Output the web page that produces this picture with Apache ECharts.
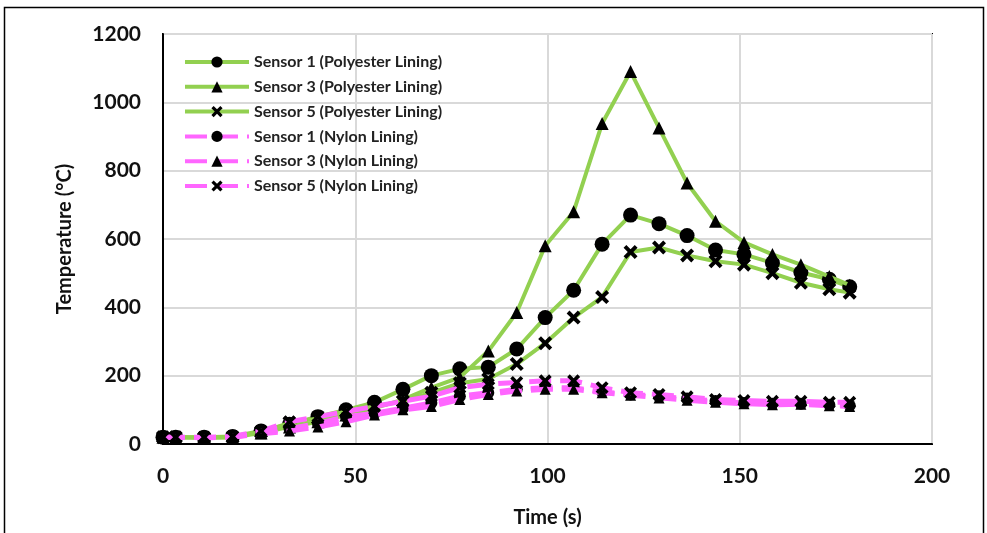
<!DOCTYPE html>
<html>
<head>
<meta charset="utf-8">
<script src="https://cdn.jsdelivr.net/npm/echarts@6/dist/echarts.min.js"></script>
<style>
html,body{margin:0;padding:0;background:#fff;}
#chart{width:987px;height:533px;}
</style>
</head>
<body>
<div id="chart"></div>
<script>
// Time stamps (s)
var times = [0, 3.3, 10.7, 18.1, 25.5, 32.9, 40.3, 47.6, 55.0, 62.4, 69.8, 77.2, 84.6, 92.0, 99.4, 106.8, 114.2, 121.6, 129.0, 136.3, 143.7, 151.1, 158.5, 165.9, 173.3, 178.6];
// Polyester lining
var polySensor1 = [20, 20, 20, 22, 38, 58, 80, 100, 122, 160, 200, 220, 225, 278, 370, 450, 585, 670, 645, 610, 568, 555, 530, 502, 482, 460];
var polySensor3 = [20, 20, 18, 20, 32, 50, 65, 85, 105, 130, 165, 195, 272, 385, 580, 680, 938, 1090, 925, 764, 652, 590, 555, 525, 490, 465];
var polySensor5 = [20, 20, 18, 20, 35, 62, 75, 95, 110, 125, 150, 178, 190, 234, 295, 370, 430, 562, 575, 552, 535, 525, 500, 472, 453, 443];
// Nylon lining
var nylonSensor1 = [20, 20, 18, 20, 32, 45, 60, 80, 90, 105, 120, 140, 150, 160, 165, 165, 152, 145, 140, 133, 126, 120, 118, 118, 115, 113];
var nylonSensor3 = [20, 20, 18, 20, 30, 38, 50, 65, 85, 100, 110, 130, 145, 155, 160, 160, 150, 143, 135, 128, 122, 118, 115, 116, 112, 110];
var nylonSensor5 = [20, 20, 20, 22, 38, 65, 80, 95, 110, 125, 140, 165, 175, 180, 185, 185, 165, 150, 145, 138, 130, 127, 125, 125, 122, 122];

var xTicks = [0, 50, 100, 150, 200];
var yTicks = [0, 200, 400, 600, 800, 1000, 1200];

var names = [
  'Sensor 1 (Polyester Lining)', 'Sensor 3 (Polyester Lining)', 'Sensor 5 (Polyester Lining)',
  'Sensor 1 (Nylon Lining)', 'Sensor 3 (Nylon Lining)', 'Sensor 5 (Nylon Lining)'
];
var values = [polySensor1, polySensor3, polySensor5, nylonSensor1, nylonSensor3, nylonSensor5];

var CROSS = 'path://M2,0 L5,3 L8,0 L10,2 L7,5 L10,8 L8,10 L5,7 L2,10 L0,8 L3,5 L0,2 Z';
var GREEN = '#92D050', PINK = '#FF66FF';
var FONT = 'Lato, "Open Sans", sans-serif';

function pairs(arr) { return times.map(function (t, i) { return [t, arr[i]]; }); }

var styles = [
  {c: GREEN, sym: 'circle', size: 15, dash: 'solid', w: 4},
  {c: GREEN, sym: 'triangle', size: 13, dash: 'solid', w: 4},
  {c: GREEN, sym: CROSS, size: 14, dash: 'solid', w: 4},
  {c: PINK, sym: 'circle', size: 12, dash: [22, 9], w: 5},
  {c: PINK, sym: 'triangle', size: 11, dash: [22, 9], w: 5},
  {c: PINK, sym: CROSS, size: 13, dash: [22, 9], w: 5}
];

var series = names.map(function (n, i) {
  var s = styles[i];
  return {
    name: n,
    type: 'line',
    data: pairs(values[i]),
    symbol: s.sym,
    symbolSize: s.size,
    showAllSymbol: true,
    smooth: false,
    lineStyle: {color: s.c, width: s.w, type: s.dash},
    itemStyle: {color: '#000', borderColor: '#000', borderWidth: 0},
    emphasis: {disabled: true},
    z: 2 + i
  };
});

var chart = echarts.init(document.getElementById('chart'), null, {renderer: 'canvas'});
chart.setOption({
  animation: false,
  backgroundColor: '#fff',
  grid: {left: 163, right: 55, top: 34, bottom: 88, show: true, borderColor: '#000', borderWidth: 2, containLabel: false},
  graphic: [{
    type: 'rect', silent: true, z: -1,
    shape: {x: 4.5, y: 7.5, width: 979, height: 560},
    style: {fill: 'none', stroke: '#000', lineWidth: 1.5}
  }],
  legend: {
    orient: 'vertical', left: 178, top: 49, itemGap: 8.8, itemWidth: 64, itemHeight: 14,
    lineStyle: {width: 4},
    textStyle: {fontFamily: FONT, fontSize: 16, lineHeight: 14, fontWeight: 'bold', color: '#222'},
    data: names
  },
  xAxis: {
    type: 'value', min: xTicks[0], max: xTicks[xTicks.length - 1], interval: 50,
    name: 'Time (s)', nameLocation: 'middle', nameGap: 64,
    nameTextStyle: {fontFamily: FONT, fontSize: 20, fontWeight: 'bold', color: '#111'},
    axisLine: {show: true, lineStyle: {color: '#000', width: 2}},
    axisTick: {show: false},
    axisLabel: {fontFamily: FONT, fontSize: 21, fontWeight: 'bold', color: '#111', margin: 22},
    splitLine: {show: true, lineStyle: {color: '#d9d9d9', width: 2}}
  },
  yAxis: {
    type: 'value', min: yTicks[0], max: yTicks[yTicks.length - 1], interval: 200,
    name: 'Temperature (°C)', nameLocation: 'middle', nameGap: 88,
    nameTextStyle: {fontFamily: FONT, fontSize: 20, fontWeight: 'bold', color: '#111'},
    axisLine: {show: true, lineStyle: {color: '#000', width: 2}},
    axisTick: {show: false},
    axisLabel: {fontFamily: FONT, fontSize: 21, fontWeight: 'bold', color: '#111', margin: 22,
      formatter: function (v) { return String(v); }},
    splitLine: {show: true, lineStyle: {color: '#d9d9d9', width: 2}}
  },
  series: series
});
</script>
</body>
</html>
